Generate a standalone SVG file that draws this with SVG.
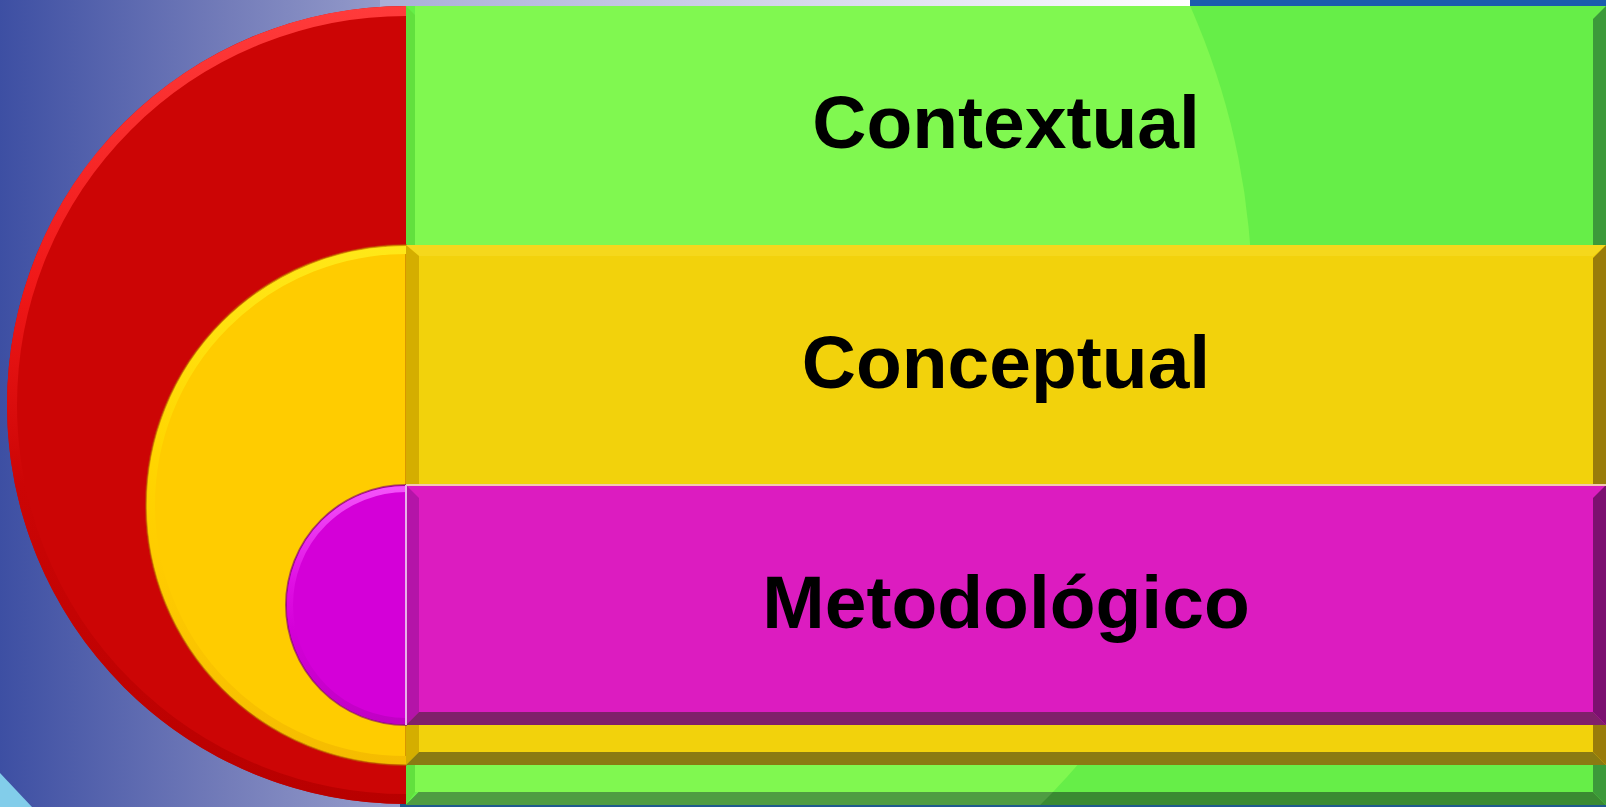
<svg xmlns="http://www.w3.org/2000/svg" width="1606" height="807" viewBox="0 0 1606 807">
<defs>
<linearGradient id="bg" x1="0" y1="0" x2="410" y2="0" gradientUnits="userSpaceOnUse">
<stop offset="0" stop-color="#3d4fa3"/>
<stop offset="0.55" stop-color="#737cb9"/>
<stop offset="1" stop-color="#9aa0cd"/>
</linearGradient>
<linearGradient id="topstrip" x1="380" y1="0" x2="1190" y2="0" gradientUnits="userSpaceOnUse">
<stop offset="0" stop-color="#a9aed8"/>
<stop offset="1" stop-color="#ffffff"/>
</linearGradient>
<linearGradient id="redRim" x1="0" y1="6" x2="0" y2="804" gradientUnits="userSpaceOnUse">
<stop offset="0" stop-color="#ff3b3b"/>
<stop offset="0.35" stop-color="#f01818"/>
<stop offset="0.6" stop-color="#cc0505"/>
<stop offset="1" stop-color="#b80000"/>
</linearGradient>
<linearGradient id="yelRim" x1="0" y1="245" x2="0" y2="765" gradientUnits="userSpaceOnUse">
<stop offset="0" stop-color="#ffe818"/>
<stop offset="0.4" stop-color="#ffd600"/>
<stop offset="0.6" stop-color="#ffcc00"/>
<stop offset="1" stop-color="#f5bc00"/>
</linearGradient>
<linearGradient id="magRim" x1="0" y1="485" x2="0" y2="725" gradientUnits="userSpaceOnUse">
<stop offset="0" stop-color="#f455fa"/>
<stop offset="0.4" stop-color="#e010e4"/>
<stop offset="0.6" stop-color="#d400d8"/>
<stop offset="1" stop-color="#c000c4"/>
</linearGradient>
<clipPath id="greenFace"><rect x="415" y="6" width="1178" height="786"/></clipPath>
<clipPath id="greenBottom"><polygon points="406,805 419,792 1593,792 1606,805"/></clipPath>
</defs>
<style>
.label{font-family:"Liberation Sans",Arial,Helvetica,sans-serif;font-weight:bold;font-size:75px;fill:#000;text-anchor:middle}
</style>

<g id="background">
<rect x="0" y="0" width="1606" height="807" fill="url(#bg)"/>
<rect x="380" y="0" width="810" height="7" fill="url(#topstrip)"/>
<rect x="1190" y="0" width="416" height="7" fill="#1b5cae"/>
<rect x="400" y="804" width="1206" height="3" fill="#1f5a8e"/>
<polygon points="0,773 32,807 0,807" fill="#82cdea"/>
</g>

<g id="connectors"></g>

<g id="node-contextual">
<path d="M406,6 A399,399 0 0 0 406,804 Z" fill="#cc0505"/>
<path d="M406,11 A394,394 0 0 0 406,799" fill="none" stroke="url(#redRim)" stroke-width="10"/>
<rect x="406" y="6" width="1200" height="799" fill="#66ee48"/>
<circle cx="537" cy="297" r="715" fill="#80f850" clip-path="url(#greenFace)"/>
<polygon points="406,6 415,15 415,792 406,805" fill="#62e03e"/>
<polygon points="1606,6 1606,805 1593,792 1593,19" fill="#3c9a3a"/>
<polygon points="406,805 419,792 1593,792 1606,805" fill="#3a8a32"/>
<circle cx="537" cy="297" r="715" fill="#4f9c42" clip-path="url(#greenBottom)"/>
<text class="label" x="1006" y="148">Contextual</text>
</g>

<g id="node-conceptual">
<path d="M406,245 A260,260 0 0 0 406,765 Z" fill="#ffcc00" stroke="#b86a00" stroke-opacity="0.55" stroke-width="2"/>
<path d="M406,250 A255,255 0 0 0 406,760" fill="none" stroke="url(#yelRim)" stroke-width="8"/>
<rect x="406" y="245" width="1200" height="520" fill="#f2d20c"/>
<polygon points="406,245 1606,245 1593,256 419,256" fill="#f5d81c"/>
<polygon points="406,245 419,256 419,752 406,765" fill="#d4ae00"/>
<polygon points="1606,245 1606,765 1593,752 1593,258" fill="#9a7c0a"/>
<polygon points="406,765 419,752 1593,752 1606,765" fill="#8a7a12"/>
<text class="label" x="1006" y="388">Conceptual</text>
</g>

<g id="node-metodologico">
<path d="M406,485 A120,120 0 0 0 406,725 Z" fill="#d400d8" stroke="#7a0070" stroke-opacity="0.6" stroke-width="2"/>
<path d="M406,489 A116,116 0 0 0 406,721" fill="none" stroke="url(#magRim)" stroke-width="6"/>
<rect x="406" y="485" width="1200" height="240" fill="#dc1cc0"/>
<polygon points="406,485 419,498 419,712 406,725" fill="#b414a8"/>
<polygon points="1606,485 1606,725 1593,712 1593,498" fill="#7c1070"/>
<polygon points="406,725 419,712 1593,712 1606,725" fill="#80206a"/>
<rect x="406" y="484" width="1200" height="2" fill="#f2c8b0"/>
<rect x="405" y="485" width="2" height="240" fill="#e8b0e8"/>
<text class="label" x="1006" y="628">Metodológico</text>
</g>
</svg>
